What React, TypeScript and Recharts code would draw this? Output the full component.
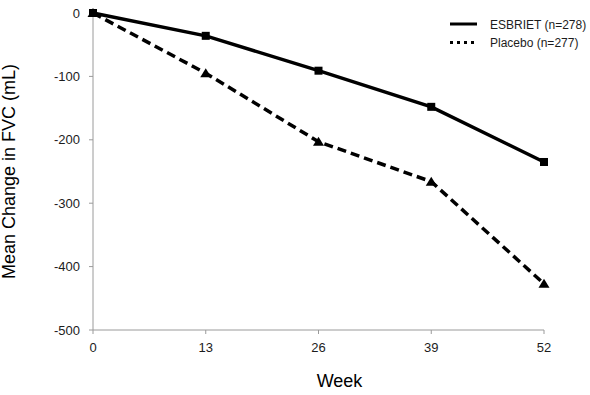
import { Line, LineChart, XAxis, YAxis } from "recharts";

const WEEKS = ["0", "13", "26", "39", "52"];
const ESBRIET = [0, -36, -91, -148, -235];
const PLACEBO = [0, -95, -203, -266, -427];
const Y_TICKS = [0, -100, -200, -300, -400, -500];

const data = WEEKS.map((week, i) => ({
  week,
  esbriet: ESBRIET[i],
  placebo: PLACEBO[i],
}));

const FONT = "'Liberation Sans', Arial, sans-serif";
const AXIS_GREY = "#9a9a9a";
const TEXT = "#1c1c1c";

function SquareDot(props: any) {
  const { cx, cy } = props;
  if (cx == null || cy == null) return null;
  return <rect x={cx - 4} y={cy - 4} width={8} height={8} fill="#000" />;
}

function TriangleDot(props: any) {
  const { cx, cy } = props;
  if (cx == null || cy == null) return null;
  return (
    <path
      d={`M${cx},${cy - 5} L${cx + 5.5},${cy + 4} L${cx - 5.5},${cy + 4} Z`}
      fill="#000"
    />
  );
}

// legend is drawn over the chart so it doesn't steal plot height
function LegendBox() {
  const rows = [
    { label: "ESBRIET (n=278)", dash: undefined },
    { label: "Placebo (n=277)", dash: "3 4" },
  ];
  return (
    <svg
      width={140}
      height={40}
      style={{ position: "absolute", left: 450, top: 18, overflow: "visible" }}
    >
      {rows.map((r, i) => (
        <g key={r.label}>
          <line
            x1={0}
            x2={27}
            y1={6 + i * 18.5}
            y2={6 + i * 18.5}
            stroke="#000"
            strokeWidth={3}
            strokeDasharray={r.dash}
          />
          <text
            x={40}
            y={10.5 + i * 18.5}
            fontSize={12}
            fontFamily={FONT}
            fill={TEXT}
          >
            {r.label}
          </text>
        </g>
      ))}
    </svg>
  );
}

export default function App() {
  return (
    <div
      style={{
        position: "absolute",
        left: 0,
        top: 0,
        width: 590,
        height: 395,
        background: "#fff",
      }}
    >
      <LineChart
        width={590}
        height={395}
        data={data}
        margin={{ top: 13, right: 46, bottom: 0, left: 0 }}
      >
        <XAxis
          dataKey="week"
          height={65}
          stroke={AXIS_GREY}
          tickSize={4}
          tickMargin={9}
          tick={{ fill: TEXT, fontSize: 13, fontFamily: FONT }}
          tickLine={{ stroke: AXIS_GREY }}
          interval={0}
          label={{
            value: "Week",
            position: "insideBottom",
            offset: 8,
            dx: 21,
            style: { fill: "#000", fontSize: 18, fontFamily: FONT },
          }}
        />
        <YAxis
          width={93}
          domain={[-500, 0]}
          ticks={Y_TICKS}
          stroke={AXIS_GREY}
          tickSize={4}
          tickMargin={9}
          tick={{ fill: TEXT, fontSize: 13, fontFamily: FONT }}
          tickLine={{ stroke: AXIS_GREY }}
          label={{
            value: "Mean Change in FVC (mL)",
            angle: -90,
            position: "insideLeft",
            offset: 9,
            style: {
              fill: "#000",
              fontSize: 18,
              fontFamily: FONT,
              textAnchor: "middle",
            },
          }}
        />
        <Line
          dataKey="placebo"
          stroke="#000"
          strokeWidth={3.5}
          strokeDasharray="9 5"
          dot={<TriangleDot />}
          activeDot={false}
          isAnimationActive={false}
        />
        <Line
          dataKey="esbriet"
          stroke="#000"
          strokeWidth={3.5}
          dot={<SquareDot />}
          activeDot={false}
          isAnimationActive={false}
        />
      </LineChart>
      <LegendBox />
    </div>
  );
}
